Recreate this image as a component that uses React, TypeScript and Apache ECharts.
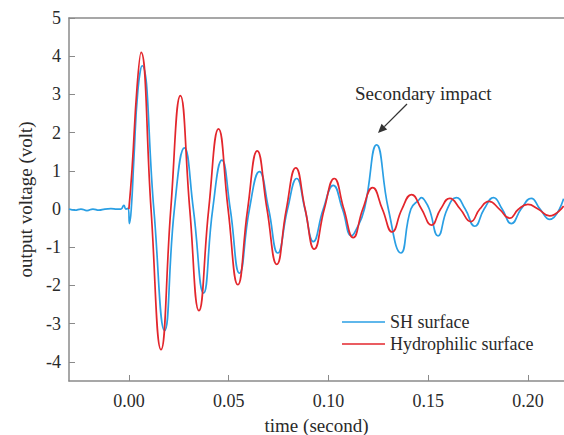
import React, { useEffect, useRef } from "react";
import * as echarts from "echarts";

// SH surface (blue) — time in seconds, voltage in volts
const shTime = [
  -0.03, -0.027, -0.024, -0.021, -0.018, -0.015, -0.012, -0.009, -0.006, -0.004, -0.0025, -0.0015, -0.0004,
  0.0003, 0.0012, 0.0025, 0.0045, 0.0066, 0.0125, 0.0179, 0.0228, 0.0278, 0.0323, 0.0374, 0.042,
  0.0466, 0.0508, 0.0554, 0.0604, 0.0654, 0.07, 0.0746, 0.0795, 0.0841, 0.0882, 0.0924, 0.0974,
  0.1024, 0.107, 0.1116, 0.1135, 0.118, 0.1241, 0.13, 0.1363, 0.1413, 0.1455, 0.1466, 0.148,
  0.1505, 0.1549, 0.1595, 0.1641, 0.1685, 0.1733, 0.178, 0.1827, 0.187, 0.1916, 0.1965, 0.2016,
  0.206, 0.2108, 0.2178,
];
const shVolt = [
  0.0, -0.03, 0.0, -0.04, 0.0, -0.03, 0.0, 0.01, 0.0, 0.0, 0.1, 0.0, 0.02,
  -0.38, 0.0, 1.3, 3.1, 3.75, 0.0, -3.18, 0.0, 1.6, 0.0, -2.2, 0.0,
  1.28, 0.0, -1.68, 0.0, 0.98, 0.0, -1.15, 0.0, 0.8, 0.0, -0.85, 0.0,
  0.62, 0.0, -0.7, -0.58, 0.0, 1.68, 0.0, -1.15, 0.0, 0.25, 0.3, 0.24,
  0.0, -0.7, 0.0, 0.3, 0.0, -0.45, 0.0, 0.3, 0.0, -0.38, 0.0, 0.28,
  0.0, -0.27, 0.27,
];

// Hydrophilic surface (red)
const hydroTime = [
  0.0, 0.0016, 0.0041, 0.0061, 0.0111, 0.0161, 0.021, 0.0258, 0.0305, 0.0351, 0.04, 0.0449,
  0.0497, 0.0546, 0.0595, 0.0643, 0.0692, 0.0741, 0.0789, 0.0836, 0.0883, 0.0929, 0.0979,
  0.1029, 0.1077, 0.1124, 0.1172, 0.1221, 0.127, 0.1319, 0.1368, 0.1416, 0.1466, 0.1516,
  0.1562, 0.1608, 0.166, 0.1713, 0.1758, 0.1804, 0.1856, 0.1908, 0.1953, 0.1999, 0.205,
  0.2108, 0.2178,
];
const hydroVolt = [
  0.0, 1.05, 3.2, 4.1, 0.0, -3.68, 0.0, 2.97, 0.0, -2.66, 0.0, 2.1,
  0.0, -1.98, 0.0, 1.52, 0.0, -1.45, 0.0, 1.08, 0.0, -1.05, 0.0,
  0.8, 0.0, -0.75, 0.0, 0.56, 0.0, -0.6, 0.0, 0.38, 0.0, -0.42,
  0.0, 0.28, 0.0, -0.33, 0.0, 0.2, 0.0, -0.24, 0.0, 0.12, 0.0,
  -0.18, 0.08,
];

const xTicks = [0, 0.05, 0.1, 0.15, 0.2];
const yTicks = [-4, -3, -2, -1, 0, 1, 2, 3, 4, 5];

const FONT = "'Liberation Serif', 'Times New Roman', serif";
const AXIS_COLOR = "#8a8a8a";
const TEXT_COLOR = "#2a2a2a";
const SH_COLOR = "#2a9fe4";
const HY_COLOR = "#e3262c";

export default function App() {
  const ref = useRef<HTMLDivElement>(null);

  useEffect(() => {
    document.body.style.margin = "0";
    if (!ref.current) return;
    const chart = echarts.init(ref.current, undefined, { renderer: "svg" });
    const sh = shTime.map((t, i) => [t, shVolt[i]]);
    const hy = hydroTime.map((t, i) => [t, hydroVolt[i]]);

    // arrow geometry
    const tail = [407, 104];
    const tip = [378, 133];
    const dx = tip[0] - tail[0];
    const dy = tip[1] - tail[1];
    const len = Math.hypot(dx, dy);
    const ux = dx / len;
    const uy = dy / len;
    const hl = 9;
    const hw = 4;
    const bx = tip[0] - ux * hl;
    const by = tip[1] - uy * hl;

    chart.setOption({
      animation: false,
      backgroundColor: "#ffffff",
      textStyle: { fontFamily: FONT },
      grid: { left: 69, right: 0, top: 18, bottom: 54, containLabel: false, outerBoundsMode: "none" },
      legend: {
        orient: "vertical",
        left: 337,
        top: 308,
        icon: "rect",
        itemWidth: 43,
        itemHeight: 1.6,
        itemGap: 4,
        textStyle: { fontFamily: FONT, fontSize: 18, color: TEXT_COLOR, lineHeight: 18 },
        data: [
          { name: "SH surface", itemStyle: { color: SH_COLOR } },
          { name: "Hydrophilic surface", itemStyle: { color: HY_COLOR } },
        ],
      },
      xAxis: [
        {
          type: "value",
          min: -0.03,
          max: 0.218,
          position: "bottom",
          name: "time (second)",
          nameLocation: "middle",
          nameGap: 35,
          nameTextStyle: { fontFamily: FONT, fontSize: 19, color: TEXT_COLOR },
          axisLine: { show: true, onZero: false, lineStyle: { color: AXIS_COLOR, width: 1.5 } },
          axisTick: { show: true, inside: true, length: 6, customValues: xTicks, lineStyle: { color: AXIS_COLOR } },
          axisLabel: {
            customValues: xTicks,
            margin: 11,
            fontFamily: FONT,
            fontSize: 18,
            color: TEXT_COLOR,
            formatter: (v: number) => v.toFixed(2),
          },
          splitLine: { show: false },
        },
        {
          type: "value",
          min: -0.03,
          max: 0.218,
          position: "top",
          axisLine: { show: true, onZero: false, lineStyle: { color: AXIS_COLOR, width: 1.5 } },
          axisTick: { show: false },
          axisLabel: { show: false },
          splitLine: { show: false },
        },
      ],
      yAxis: {
        type: "value",
        min: -4.5,
        max: 5,
        name: "output voltage (volt)",
        nameLocation: "middle",
        nameGap: 34,
        nameRotate: 90,
        nameTextStyle: { fontFamily: FONT, fontSize: 19, color: TEXT_COLOR },
        axisLine: { show: true, onZero: false, lineStyle: { color: AXIS_COLOR, width: 1.5 } },
        axisTick: { show: true, inside: true, length: 6, customValues: yTicks, lineStyle: { color: AXIS_COLOR } },
        axisLabel: {
          customValues: yTicks,
          margin: 8,
          fontFamily: FONT,
          fontSize: 18,
          color: TEXT_COLOR,
        },
        splitLine: { show: false },
      },
      series: [
        {
          name: "SH surface",
          type: "line",
          data: sh,
          showSymbol: false,
          symbol: "none",
          smooth: 0.5,
          lineStyle: { color: SH_COLOR, width: 1.7 },
          itemStyle: { color: SH_COLOR },
          z: 2,
        },
        {
          name: "Hydrophilic surface",
          type: "line",
          data: hy,
          showSymbol: false,
          symbol: "none",
          smooth: 0.5,
          lineStyle: { color: HY_COLOR, width: 1.7 },
          itemStyle: { color: HY_COLOR },
          z: 3,
        },
      ],
      graphic: [
        {
          type: "text",
          left: 355,
          top: 84,
          style: { text: "Secondary impact", fontFamily: FONT, fontSize: 19, fill: TEXT_COLOR },
        },
        {
          type: "line",
          shape: { x1: tail[0], y1: tail[1], x2: bx, y2: by },
          style: { stroke: "#333", lineWidth: 1.3 },
        },
        {
          type: "polygon",
          shape: {
            points: [
              [tip[0], tip[1]],
              [bx - uy * hw, by + ux * hw],
              [bx + uy * hw, by - ux * hw],
            ],
          },
          style: { fill: "#333" },
        },
      ],
    });
    return () => chart.dispose();
  }, []);

  return <div ref={ref} style={{ width: 564, height: 435 }} />;
}
